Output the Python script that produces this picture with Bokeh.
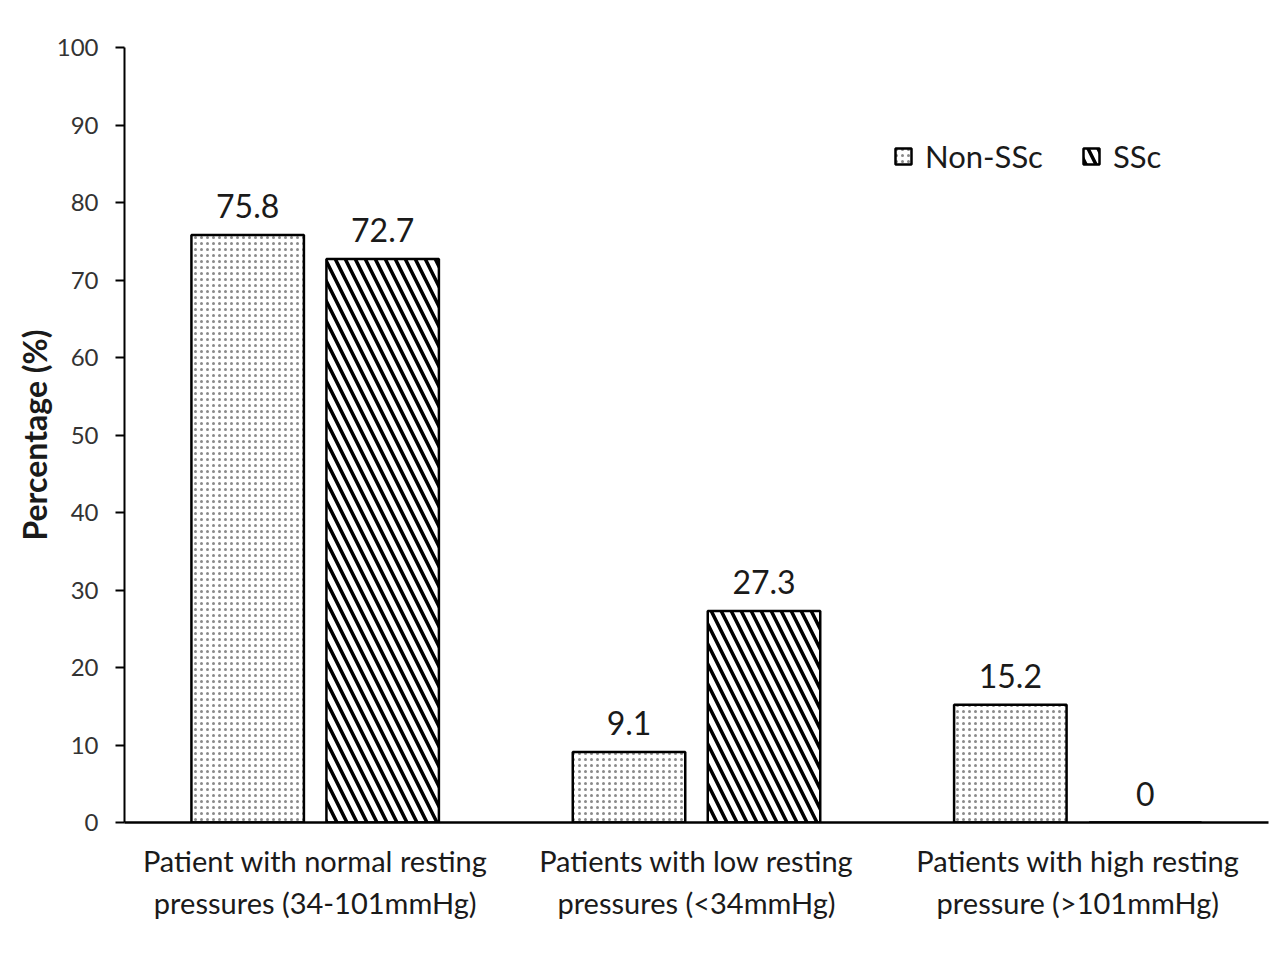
from bokeh.plotting import figure
from bokeh.models import ColumnDataSource, LabelSet, Legend, LegendItem, FixedTicker
from bokeh.embed import file_html
from bokeh.resources import INLINE
from bokeh.core.properties import value

categories = ["Patient with normal resting\npressures (34-101mmHg)",
              "Patients with low resting\npressures (<34mmHg)",
              "Patients with high resting\npressure (>101mmHg)"]
non_ssc = [75.8, 9.1, 15.2]
ssc = [72.7, 27.3, 0]
y_ticks = [0, 10, 20, 30, 40, 50, 60, 70, 80, 90, 100]

FONT = "Lato"
centers = [i + 0.5 for i in range(len(categories))]
off = 0.177
bw = 0.295

src_a = ColumnDataSource(dict(x=[c - off for c in centers], top=non_ssc,
                              lab=[str(v) for v in non_ssc]))
src_b = ColumnDataSource(dict(x=[c + off for c in centers], top=ssc,
                              lab=[str(v) for v in ssc]))

p = figure(width=1272, height=957, output_backend="svg", toolbar_location=None,
           x_range=(0, 3), y_range=(0, 100),
           min_border_left=124, min_border_right=4, min_border_top=47, min_border_bottom=135)
p.outline_line_color = None
p.grid.grid_line_color = None
p.background_fill_color = "white"

ra = p.vbar(x="x", top="top", width=bw, source=src_a, fill_color="white",
            line_color="black", line_width=2.5,
            hatch_pattern=".", hatch_scale=6, hatch_color="#8a8a8a", hatch_weight=1.2)
rb = p.vbar(x="x", top="top", width=bw, source=src_b, fill_color="white",
            line_color="black", line_width=2.5,
            hatch_pattern="\\", hatch_scale=20, hatch_color="black", hatch_weight=3.5)

for s in (src_a, src_b):
    p.add_layout(LabelSet(x="x", y="top", text="lab", source=s, y_offset=17,
                          text_align="center", text_baseline="alphabetic",
                          text_font=value(FONT), text_font_size="32px",
                          text_color="#1a1a1a"))

# axes
p.yaxis.ticker = FixedTicker(ticks=y_ticks)
p.yaxis.axis_label = "Percentage (%)"
p.yaxis.axis_label_text_font = FONT
p.yaxis.axis_label_text_font_style = "bold"
p.yaxis.axis_label_text_font_size = "32px"
p.yaxis.axis_label_text_color = "#1a1a1a"
p.yaxis.axis_label_standoff = 0
p.yaxis.major_label_text_font = FONT
p.yaxis.major_label_text_font_size = "24px"
p.yaxis.major_label_text_color = "#333333"
p.yaxis.major_label_standoff = 17
p.yaxis.major_tick_out = 9
p.yaxis.major_tick_in = 0
p.yaxis.minor_tick_line_color = None
p.yaxis.axis_line_width = 2
p.yaxis.major_tick_line_width = 2

p.xaxis.ticker = FixedTicker(ticks=centers)
p.xaxis.major_label_overrides = {c: lab for c, lab in zip(centers, categories)}
p.xaxis.major_label_text_font = FONT
p.xaxis.major_label_text_font_size = "29px"
p.xaxis.major_label_text_color = "#1a1a1a"
p.xaxis.major_label_standoff = 20
p.xaxis.major_tick_line_color = None
p.xaxis.major_tick_out = 0
p.xaxis.minor_tick_line_color = None
p.xaxis.axis_line_width = 2.5

legend = Legend(items=[LegendItem(label="Non-SSc", renderers=[ra]),
                       LegendItem(label="SSc", renderers=[rb])],
                orientation="horizontal", location=(769, 647),
                glyph_width=20, glyph_height=20, label_standoff=12, spacing=38,
                padding=0, margin=0, border_line_color=None,
                background_fill_alpha=0,
                label_text_font=FONT, label_text_font_size="31px",
                label_text_color="#1a1a1a")
p.add_layout(legend, "center")

open("out.html", "w").write(file_html(p, INLINE))
